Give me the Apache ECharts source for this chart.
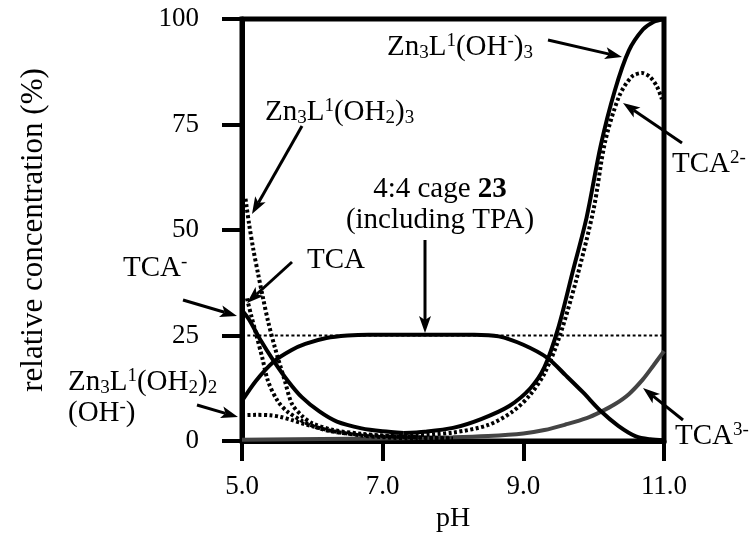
<!DOCTYPE html>
<html>
<head>
<meta charset="utf-8">
<script src="https://cdn.jsdelivr.net/npm/echarts@6/dist/echarts.min.js"></script>
<style>
  html, body { margin: 0; padding: 0; background: #fff; }
  #main { width: 749px; height: 538px; }
</style>
</head>
<body>
<div id="main"></div>
<script>
var myChart = echarts.init(document.getElementById('main'));

var FONT = 'Liberation Serif';

// species curves, pH vs relative concentration (%)
var zn3OH3X = [7.3, 7.6, 8.0, 8.4, 8.8, 9.1, 9.3, 9.5, 9.7, 9.9, 10.1, 10.3, 10.5, 10.7, 10.85, 11.0];
var zn3OH3Y = [1.9, 2.2, 3.1, 5.2, 8.3, 12.5, 17.5, 27, 40, 53, 70, 83, 92.5, 97.5, 99.3, 100];

var tcaMinusX = [5.0, 5.1, 5.25, 5.45, 5.65, 5.85, 6.1, 6.35, 6.7, 7.0, 7.3];
var tcaMinusY = [31, 28.8, 24.3, 19, 14.3, 10.4, 7, 4.6, 3.0, 2.3, 1.9];

var cageX = [5.0, 5.2, 5.45, 5.7, 5.9, 6.2, 6.5, 6.8, 7.5, 8.3, 8.65, 9.0, 9.35, 9.6, 9.85, 10.1, 10.35, 10.6, 10.8, 11.0];
var cageY = [9.5, 14.3, 18.8, 21.5, 23, 24.4, 25, 25.2, 25.2, 25.2, 24.8, 22.8, 19.6, 15.6, 11.5, 7.1, 3.6, 1.1, 0.4, 0.2];

var tca3X = [5.0, 7.0, 8.0, 8.5, 9.0, 9.3, 9.6, 9.9, 10.1, 10.3, 10.5, 10.7, 10.85, 11.0];
var tca3Y = [0.3, 0.6, 0.9, 1.2, 1.8, 2.6, 3.9, 5.4, 6.9, 8.7, 11.1, 14.6, 17.9, 21.3];

var zn3OH2x3X = [5.05, 5.1, 5.16, 5.23, 5.3, 5.37, 5.47, 5.61, 5.71, 5.85, 6.0, 6.3, 6.7, 7.0, 7.5, 8.0];
var zn3OH2x3Y = [57.4, 51.5, 45.5, 39.5, 33.8, 28.4, 22, 14.2, 8.8, 6.0, 4.2, 2.6, 1.7, 1.3, 0.9, 0.6];

var tcaX = [5.07, 5.13, 5.19, 5.29, 5.37, 5.51, 5.65, 5.86, 6.05, 6.23, 6.6, 7.0, 7.5, 8.0];
var tcaY = [33.8, 29.8, 26, 19.6, 14.2, 9.4, 6.9, 4.7, 3.3, 2.4, 1.6, 1.2, 0.8, 0.5];

var zn3OH2x2X = [5.0, 5.2, 5.4, 5.55, 5.7, 5.85, 6.0, 6.3, 6.7, 7.0, 7.5];
var zn3OH2x2Y = [6.1, 6.2, 6.1, 5.7, 5.0, 4.2, 3.5, 2.3, 1.3, 0.9, 0.5];

var tca2X = [7.0, 7.5, 8.0, 8.5, 8.85, 9.1, 9.3, 9.5, 9.75, 10.0, 10.16, 10.36, 10.54, 10.69, 10.8, 10.9, 10.97];
var tca2Y = [1.0, 1.4, 2.0, 3.8, 7.0, 11.0, 16, 24, 38, 55, 70.7, 81.6, 86.3, 87.2, 86.3, 84, 81];

var refX = [5.0, 11.0];
var refY = [25, 25];

var xTicks = [5, 7, 9, 11];
var yTicks = [0, 25, 50, 75, 100];

// labels and arrows (pixel layout)
var rich = {
    sub: { fontSize: 19, fontFamily: FONT, verticalAlign: 'bottom', lineHeight: 12 },
    sup: { fontSize: 19, fontFamily: FONT, verticalAlign: 'top', lineHeight: 13 },
    bold: { fontSize: 29, fontFamily: FONT, fontWeight: 'bold' }
};
var labels = [
    { text: 'Zn{sub|3}L{sup|1}(OH{sup|-}){sub|3}', x: 387, y: 47, align: 'left' },
    { text: 'Zn{sub|3}L{sup|1}(OH{sub|2}){sub|3}', x: 265, y: 112, align: 'left' },
    { text: '4:4 cage {bold|23}\n(including TPA)', x: 440, y: 205, align: 'center' },
    { text: 'TCA', x: 307, y: 260, align: 'left' },
    { text: 'TCA{sup|-}', x: 123, y: 268, align: 'left' },
    { text: 'Zn{sub|3}L{sup|1}(OH{sub|2}){sub|2}\n(OH{sup|-})', x: 68, y: 398, align: 'left' },
    { text: 'TCA{sup|2-}', x: 672, y: 164, align: 'left' },
    { text: 'TCA{sup|3-}', x: 675, y: 436, align: 'left' }
];
var arrows = [
    [[548, 40], [622, 57]],
    [[302, 126], [252, 214]],
    [[425, 240], [425, 333]],
    [[292, 262], [247, 303]],
    [[183, 300], [237, 316]],
    [[197, 405], [238, 417]],
    [[682, 143], [623, 103]],
    [[683, 420], [643, 388]]
];

function pairs(xs, ys) {
    return xs.map(function (x, i) { return [x, ys[i]]; });
}

function curve(xs, ys, dotted, color, width) {
    return {
        type: 'line',
        data: pairs(xs, ys),
        smooth: 0.3,
        symbol: 'none',
        silent: true,
        clip: true,
        lineStyle: {
            color: color || '#000',
            width: width || 4,
            type: dotted ? [3, 2.5] : 'solid',
            cap: 'butt'
        }
    };
}

function arrowShapes(a) {
    var x1 = a[0][0], y1 = a[0][1], x2 = a[1][0], y2 = a[1][1];
    var len = Math.sqrt((x2 - x1) * (x2 - x1) + (y2 - y1) * (y2 - y1));
    var dx = (x2 - x1) / len, dy = (y2 - y1) / len;
    var L = 17, w = 6;
    var bx = x2 - dx * L, by = y2 - dy * L;
    return [
        {
            type: 'line',
            shape: { x1: x1, y1: y1, x2: bx + dx * 4, y2: by + dy * 4 },
            style: { stroke: '#000', lineWidth: 3 },
            z: 100
        },
        {
            type: 'polygon',
            shape: { points: [[x2, y2], [bx - dy * w, by + dx * w], [bx + dx * 4, by + dy * 4], [bx + dy * w, by - dx * w]] },
            style: { fill: '#000' },
            z: 100
        }
    ];
}

var graphics = [];
labels.forEach(function (l) {
    graphics.push({
        type: 'text',
        x: l.x,
        y: l.y,
        z: 100,
        style: {
            text: l.text,
            rich: rich,
            fontSize: 29,
            fontFamily: FONT,
            lineHeight: 31,
            fill: '#000',
            textAlign: l.align,
            textVerticalAlign: 'middle'
        }
    });
});
arrows.forEach(function (a) {
    graphics = graphics.concat(arrowShapes(a));
});

option = {
    backgroundColor: '#fff',
    animation: false,
    grid: {
        left: 242,
        top: 19,
        width: 422,
        height: 424,
        show: true,
        borderColor: '#000',
        borderWidth: 5
    },
    xAxis: {
        type: 'value',
        min: xTicks[0],
        max: xTicks[xTicks.length - 1],
        interval: xTicks[1] - xTicks[0],
        name: 'pH',
        nameLocation: 'middle',
        nameGap: 64,
        nameTextStyle: { fontFamily: FONT, fontSize: 28, color: '#000' },
        axisLine: { lineStyle: { color: '#000', width: 5 } },
        axisTick: { length: 20, lineStyle: { color: '#000', width: 4 } },
        axisLabel: {
            fontFamily: FONT, fontSize: 27, color: '#000', margin: 32,
            formatter: function (v) { return v.toFixed(1); }
        },
        splitLine: { show: false }
    },
    yAxis: {
        type: 'value',
        min: yTicks[0],
        max: yTicks[yTicks.length - 1],
        interval: yTicks[1] - yTicks[0],
        name: 'relative concentration (%)',
        nameLocation: 'middle',
        nameGap: 193,
        nameTextStyle: { fontFamily: FONT, fontSize: 31, color: '#000' },
        axisLine: { lineStyle: { color: '#000', width: 5 } },
        axisTick: { length: 20, lineStyle: { color: '#000', width: 4 } },
        axisLabel: { fontFamily: FONT, fontSize: 27, color: '#000', margin: 43 },
        splitLine: { show: false }
    },
    series: [
        curve(refX, refY, true, '#000', 2),
        curve(tca3X, tca3Y, false, '#444', 4),
        curve(zn3OH2x2X, zn3OH2x2Y, true),
        curve(tcaX, tcaY, true),
        curve(zn3OH2x3X, zn3OH2x3Y, true),
        curve(tca2X, tca2Y, true),
        curve(cageX, cageY, false),
        curve(tcaMinusX, tcaMinusY, false),
        curve(zn3OH3X, zn3OH3Y, false)
    ],
    graphic: graphics
};

myChart.setOption(option);
</script>
</body>
</html>
